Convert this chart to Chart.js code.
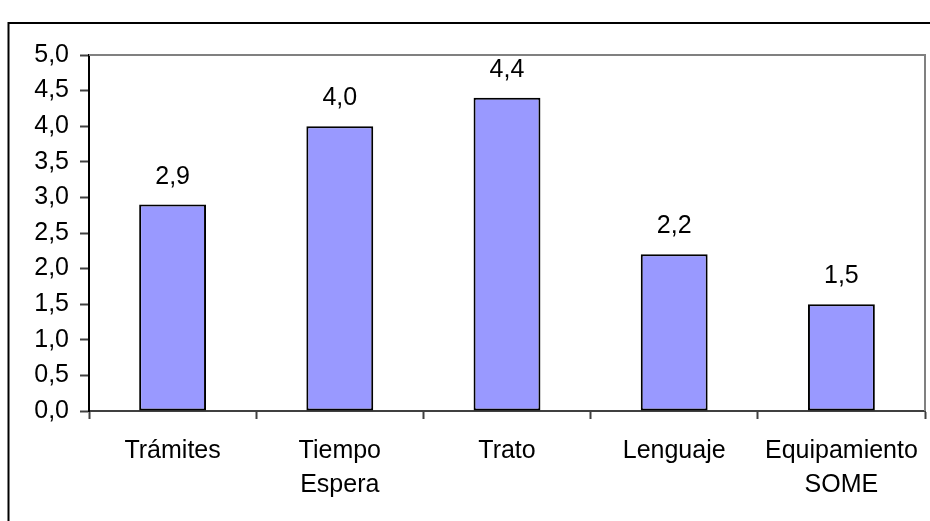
<!DOCTYPE html>
<html>
<head>
<meta charset="utf-8">
<script src="https://cdn.jsdelivr.net/npm/chart.js@4.4.1/dist/chart.umd.min.js"></script>
<style>
	html, body { margin: 0; padding: 0; background: #fff; }
	#wrap { width: 930px; height: 521px; }
</style>
</head>
<body>
<div id="wrap"><canvas id="chart" width="930" height="521"></canvas></div>
<script>
var categories = [["Trámites"], ["Tiempo", "Espera"], ["Trato"], ["Lenguaje"], ["Equipamiento", "SOME"]];
var values = [2.9, 4.0, 4.4, 2.2, 1.5];
var yTicks = [0, 0.5, 1, 1.5, 2, 2.5, 3, 3.5, 4, 4.5, 5];

function fmt(v) {
	return Number(v).toFixed(1).replace('.', ',');
}

var FONT = "'Liberation Sans', Arial, sans-serif";

// outer frame + grey plot border
var framePlugin = {
	id: 'frame',
	beforeDraw: function(chart) {
		var ctx = chart.ctx;
		ctx.save();
		ctx.fillStyle = '#fff';
		ctx.fillRect(0, 0, chart.width, chart.height);
		ctx.strokeStyle = '#000';
		ctx.lineWidth = 2;
		ctx.strokeRect(8.5, 23, 940, 540);
		ctx.restore();
	},
	afterDraw: function(chart) {
		var a = chart.chartArea;
		var ctx = chart.ctx;
		ctx.save();
		ctx.strokeStyle = '#808080';
		ctx.lineWidth = 2;
		ctx.beginPath();
		ctx.moveTo(a.left, a.top);
		ctx.lineTo(a.right, a.top);
		ctx.lineTo(a.right, a.bottom);
		ctx.stroke();
		ctx.restore();
	}
};

var labelPlugin = {
	id: 'valueLabels',
	afterDatasetsDraw: function(chart) {
		var ctx = chart.ctx;
		var meta = chart.getDatasetMeta(0);
		ctx.save();
		ctx.font = '25px ' + FONT;
		ctx.fillStyle = '#000';
		ctx.textAlign = 'center';
		ctx.textBaseline = 'alphabetic';
		meta.data.forEach(function(bar, i) {
			ctx.fillText(fmt(values[i]), bar.x, bar.y - 21);
		});
		ctx.restore();
	}
};

var ctx = document.getElementById("chart").getContext('2d');
var chart = new Chart(ctx, {
	type: 'bar',
	data: {
		labels: categories,
		datasets: [{
			data: values,
			backgroundColor: '#9999FF',
			borderColor: '#000',
			borderWidth: 2,
			borderSkipped: false,
			barPercentage: 0.4,
			categoryPercentage: 1.0
		}]
	},
	options: {
		responsive: false,
		animation: false,
		events: [],
		layout: { padding: { left: 0, top: 55, right: 5, bottom: 0 } },
		plugins: {
			legend: { display: false },
			tooltip: { enabled: false },
			title: { display: false }
		},
		scales: {
			x: {
				grid: {
					offset: true,
					drawOnChartArea: false,
					drawTicks: true,
					tickLength: 8,
					tickColor: '#404040',
					tickWidth: 2
				},
				border: { color: '#404040', width: 2 },
				ticks: {
					color: '#000',
					padding: 15,
					font: { family: FONT, size: 25, lineHeight: 1.36 }
				},
				afterFit: function(scale) {
					scale.height = 110;
					scale.paddingLeft = 0;
					scale.paddingRight = 0;
				}
			},
			y: {
				min: 0,
				max: 5,
				afterBuildTicks: function(scale) {
					scale.ticks = yTicks.map(function(v) { return { value: v }; });
				},
				grid: {
					drawOnChartArea: false,
					drawTicks: true,
					tickLength: 9,
					tickColor: '#404040',
					tickWidth: 2
				},
				border: { color: '#000', width: 2 },
				ticks: {
					color: '#000',
					padding: 11,
					font: { family: FONT, size: 25 },
					callback: function(v) { return fmt(v); }
				},
				afterFit: function(scale) { scale.width = 89; }
			}
		}
	},
	plugins: [framePlugin, labelPlugin]
});
</script>
</body>
</html>
